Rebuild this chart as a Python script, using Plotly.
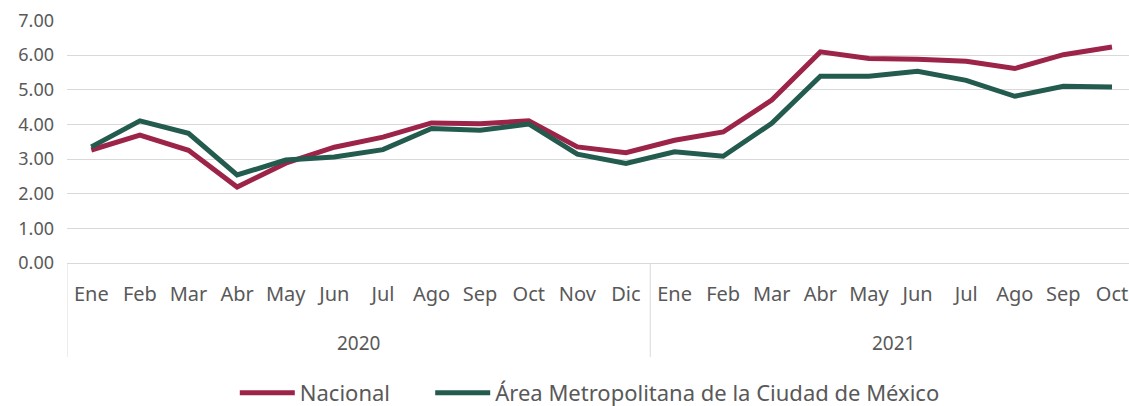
import plotly.graph_objects as go

months = ["Ene", "Feb", "Mar", "Abr", "May", "Jun", "Jul", "Ago", "Sep", "Oct", "Nov", "Dic",
          "Ene", "Feb", "Mar", "Abr", "May", "Jun", "Jul", "Ago", "Sep", "Oct"]
years = ["2020"] * 12 + ["2021"] * 10

nacional = [3.26, 3.69, 3.25, 2.19, 2.88, 3.34, 3.63, 4.04, 4.02, 4.10, 3.35, 3.18,
            3.54, 3.78, 4.70, 6.09, 5.90, 5.88, 5.82, 5.61, 6.01, 6.23]
amcm = [3.35, 4.10, 3.74, 2.54, 2.97, 3.06, 3.27, 3.88, 3.83, 4.01, 3.14, 2.87,
        3.21, 3.08, 4.03, 5.39, 5.39, 5.53, 5.27, 4.81, 5.10, 5.08]

RED = "#9D2449"
GREEN = "#235B4E"
GRID = "#d9d9d9"
TXT = "#595959"
FONT = "Noto Sans"

cats = [f"{m} {y}" for m, y in zip(months, years)]

fig = go.Figure()
fig.add_trace(go.Scatter(x=cats, y=nacional, mode="lines", name="Nacional",
                         line=dict(color=RED, width=5), legend="legend"))
fig.add_trace(go.Scatter(x=cats, y=amcm, mode="lines",
                         name="Área Metropolitana de la Ciudad de México",
                         line=dict(color=GREEN, width=5), legend="legend2"))

# year group labels and dividers
year_list = []
for y in years:
    if y not in year_list:
        year_list.append(y)
annotations = []
shapes = []
for y in year_list:
    idx = [i for i, v in enumerate(years) if v == y]
    mid = (idx[0] + idx[-1]) / 2
    annotations.append(dict(x=mid, xref="x", y=-0.329, yref="paper", text=y,
                            showarrow=False, yanchor="middle",
                            font=dict(family=FONT, size=19, color=TXT)))
    shapes.append(dict(type="line", xref="x", yref="paper", x0=idx[0] - 0.5, x1=idx[0] - 0.5,
                       y0=0, y1=-0.387, line=dict(color=GRID, width=1)))

legend_common = dict(orientation="h", xanchor="left", y=-0.535, yanchor="middle",
                     font=dict(size=22, color=TXT), itemwidth=55, bgcolor="rgba(0,0,0,0)")

fig.update_layout(
    width=1129, height=406,
    margin=dict(l=67, r=0, t=20, b=143, autoexpand=False),
    paper_bgcolor="white", plot_bgcolor="white",
    font=dict(family=FONT, size=18, color=TXT),
    showlegend=True,
    legend=dict(x=0.158, **legend_common),
    legend2=dict(x=0.342, **legend_common),
    annotations=annotations,
    shapes=shapes,
    xaxis=dict(type="category", range=[-0.5, len(cats) - 0.65],
               tickvals=cats, ticktext=months,
               showgrid=False, showline=False, ticks="", zeroline=False,
               ticklabelstandoff=17, automargin=False,
               tickfont=dict(size=20, color=TXT)),
    yaxis=dict(range=[0, 7.01], tickvals=[0, 1, 2, 3, 4, 5, 6, 7], tickformat=".2f",
               showgrid=True, gridcolor=GRID, gridwidth=1, zeroline=True,
               zerolinecolor=GRID, zerolinewidth=1, showline=False, ticks="",
               ticklabelstandoff=12, automargin=False,
               tickfont=dict(size=18, color=TXT)),
)

fig.write_html("out.html", config={"displayModeBar": False},
               post_script="document.body.style.margin='0';")
